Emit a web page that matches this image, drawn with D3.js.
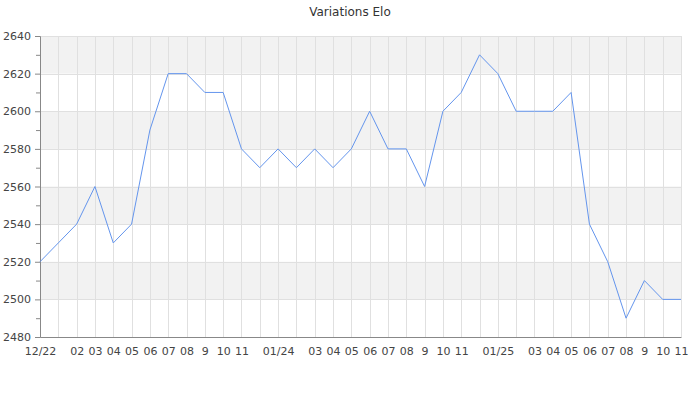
<!DOCTYPE html>
<html>
<head>
    <title>Variations Elo</title>
    <script src="https://cdn.jsdelivr.net/npm/d3@7"></script>
    <meta charset="utf-8" />
    <style>
        body { margin: 0; background: #fff; }
        text { font-family: "DejaVu Sans", sans-serif; fill: #444; }
    </style>
</head>
<body>
    <div id="chart"></div>
    <script>
        // monthly elo, 12/22 to 11/25
        var months = ["12/22", "01/23", "02", "03", "04", "05", "06", "07", "08", "9", "10", "11",
            "12", "01/24", "02", "03", "04", "05", "06", "07", "08", "9", "10", "11",
            "12", "01/25", "02", "03", "04", "05", "06", "07", "08", "9", "10", "11"];
        // labels that are left out in the original (they would collide)
        var hiddenLabels = [1, 12, 14, 24, 26];
        var elo = [2520, 2530, 2540, 2560, 2530, 2540, 2590, 2620, 2620, 2610, 2610, 2580,
            2570, 2580, 2570, 2580, 2570, 2580, 2600, 2580, 2580, 2560, 2600, 2610,
            2630, 2620, 2600, 2600, 2600, 2610, 2540, 2520, 2490, 2510, 2500, 2500];
        var yTicks = [2480, 2500, 2520, 2540, 2560, 2580, 2600, 2620, 2640];

        var width = 700;
        var height = 400;
        var margin = { top: 36, right: 19, bottom: 63, left: 40 };
        var innerW = width - margin.left - margin.right;
        var innerH = height - margin.top - margin.bottom;

        var svg = d3.select("#chart")
            .append("svg")
            .attr("width", width)
            .attr("height", height);

        svg.append("text")
            .attr("x", width / 2)
            .attr("y", 16)
            .attr("text-anchor", "middle")
            .style("font-size", "12px")
            .style("fill", "#333")
            .text("Variations Elo");

        var g = svg.append("g")
            .attr("transform", "translate(" + margin.left + "," + margin.top + ")");

        var x = d3.scalePoint()
            .domain(d3.range(months.length))
            .range([0, innerW]);

        var y = d3.scaleLinear()
            .domain([2480, 2640])
            .range([innerH, 0]);

        // shaded bands every other 20 points
        var bands = yTicks.slice(0, -1).filter(function (d, i) { return i % 2 === 1; });
        g.selectAll(".band")
            .data(bands)
            .enter()
            .append("rect")
            .attr("x", 0)
            .attr("width", innerW)
            .attr("y", function (d) { return y(d + 20); })
            .attr("height", function (d) { return y(d) - y(d + 20); })
            .style("fill", "#f2f2f2");

        // grid
        g.selectAll(".hgrid")
            .data(yTicks.slice(1))
            .enter()
            .append("line")
            .attr("x1", 0)
            .attr("x2", innerW)
            .attr("y1", function (d) { return Math.round(y(d)) + 0.5; })
            .attr("y2", function (d) { return Math.round(y(d)) + 0.5; })
            .style("stroke", "#e0e0e0");

        g.selectAll(".vgrid")
            .data(d3.range(1, months.length))
            .enter()
            .append("line")
            .attr("x1", function (d) { return Math.round(x(d)) + 0.5; })
            .attr("x2", function (d) { return Math.round(x(d)) + 0.5; })
            .attr("y1", 0)
            .attr("y2", innerH)
            .style("stroke", "#e0e0e0");

        // y axis
        var yAxis = g.append("g")
            .call(d3.axisLeft(y).tickValues(yTicks).tickSize(5).tickPadding(4).tickFormat(d3.format("d")));
        yAxis.select(".domain").style("stroke", "#888");
        yAxis.selectAll(".tick line").style("stroke", "#888");
        yAxis.selectAll("text").style("font-size", "11px").style("fill", "#444");

        // minor ticks
        g.append("g")
            .call(d3.axisLeft(y).tickValues(d3.range(2490, 2640, 20)).tickSize(4).tickFormat(""))
            .call(function (a) { a.select(".domain").remove(); })
            .selectAll(".tick line").style("stroke", "#888");

        // x axis
        var xAxis = g.append("g")
            .attr("transform", "translate(0," + innerH + ")")
            .call(d3.axisBottom(x)
                .tickSize(0)
                .tickPadding(10)
                .tickFormat(function (d) { return hiddenLabels.indexOf(d) >= 0 ? "" : months[d]; }));
        xAxis.select(".domain").style("stroke", "#888");
        xAxis.selectAll("text").style("font-size", "11px").style("fill", "#444");

        var line = d3.line()
            .x(function (d, i) { return x(i); })
            .y(function (d) { return y(d); });

        g.append("path")
            .datum(elo)
            .attr("d", line)
            .style("fill", "none")
            .style("stroke", "#6495ed")
            .style("stroke-width", 1);
    </script>
</body>
</html>
